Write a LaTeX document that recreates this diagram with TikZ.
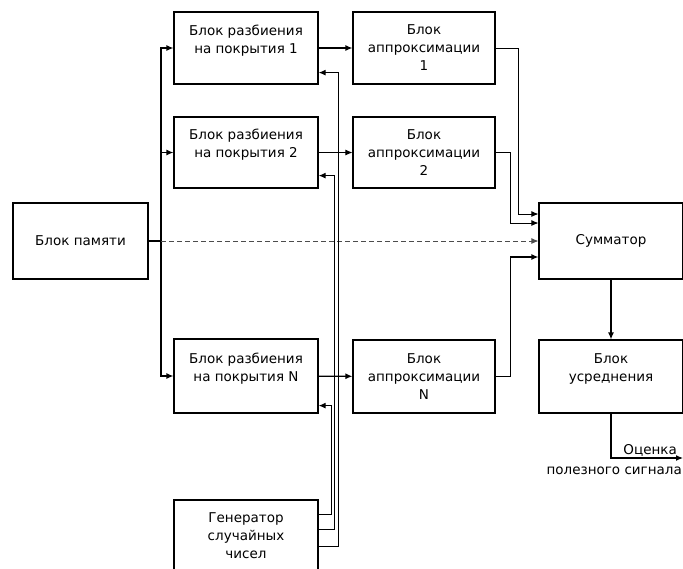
\documentclass[tikz,border=0pt]{standalone}
\usepackage{fontspec}
\setmainfont{DejaVu Sans}
\usetikzlibrary{arrows.meta, positioning}
\tikzset{
    blockbox/.style={rectangle, minimum width=144, minimum height=72, inner sep=0pt, align=center, draw=black, line width=1.2pt, font=\fontsize{13.5}{18}\selectfont},
    arrow/.style={line width=1.2pt, -{Latex[length=7pt,width=6pt]}},
    thinarrow/.style={line width=0.8pt, -{Latex[length=7pt,width=6pt]}},
    dasharrow/.style={line width=0.8pt, draw=black!70, dash pattern=on 5pt off 3pt, -{Latex[length=7pt,width=6pt]}}
}
\begin{document}
\begin{tikzpicture}[x=1pt, y=-1pt]
    \useasboundingbox (0,0) rectangle (683,568);

    \node (mem) [blockbox, minimum width=135, minimum height=76] at (80.5,241) {Блок памяти};

    \node (part1) [blockbox] at (246,48) {Блок разбиения\\на покрытия 1\\\mbox{}};
    \node (part2) [blockbox, minimum height=71] at (246,152.5) {Блок разбиения\\на покрытия 2\\\mbox{}};
    \node (partN) [blockbox, minimum height=74] at (246,376) {Блок разбиения\\на покрытия N\\\mbox{}};

    \node (appr1) [blockbox, minimum width=142] at (424,48) {Блок\\аппроксимации\\1};
    \node (appr2) [blockbox, minimum width=142, minimum height=71] at (424,152.5) {Блок\\аппроксимации\\2};
    \node (apprN) [blockbox, minimum width=142, minimum height=73] at (424,376.5) {Блок\\аппроксимации\\N};

    \node (sum) [blockbox, minimum height=76] at (611,241) {\raisebox{3pt}{Сумматор}};
    \node (avg) [blockbox, minimum height=73] at (611,376.5) {Блок\\усреднения\\\mbox{}};

    \node (gen) [blockbox] at (246,536) {Генератор\\случайных\\чисел};

    \coordinate (bus) at (161,241);
    \coordinate (est) at (683,458);

    % memory to the partition blocks
    \draw [line width=1.2pt] (mem.east) -- (bus);
    \draw [line width=1.2pt] (bus) -- (bus |- part1.west);
    \draw [line width=1.2pt] (bus) -- (bus |- partN.west);
    \draw [arrow] (bus) |- (part1.west);
    \draw [arrow] (bus) |- (part2.west);
    \draw [arrow] (bus) |- (partN.west);
    \draw [dasharrow] (bus) -- (sum.west);

    % partition to approximation
    \draw [arrow] (part1) -- (appr1);
    \draw [thinarrow] (part2) -- (appr2);
    \draw [arrow] (partN) -- (apprN);

    % approximation to the adder
    \draw [thinarrow] (appr1.east) -- ++(23,0) |- ([yshift=27pt]sum.west);
    \draw [thinarrow] (appr2.east) -- ++(15,0) |- ([yshift=18pt]sum.west);
    \draw [arrow] (apprN.east) -- ++(15,0) |- ([yshift=-16pt]sum.west);

    % random generator
    \draw [arrow] ([yshift=-15pt]gen.north east) -- ++(13,0) |- ([yshift=8pt]partN.south east);
    \draw [arrow] ([yshift=-30pt]gen.north east) -- ++(16,0) |- ([yshift=13pt]part2.south east);
    \draw [arrow] ([yshift=-47pt]gen.north east) -- ++(20,0) |- ([yshift=12pt]part1.south east);

    \draw [arrow] (sum) -- (avg);
    \draw [arrow] (avg.south) |- (est);
    \node (estlbl) [font=\fontsize{13.5}{18}\selectfont, anchor=base east, inner sep=0pt] at (677,454) {Оценка};
    \node (estlbl2) [font=\fontsize{13.5}{18}\selectfont, anchor=base east, inner sep=0pt] at (682,474) {полезного сигнала};
\end{tikzpicture}
\end{document}
